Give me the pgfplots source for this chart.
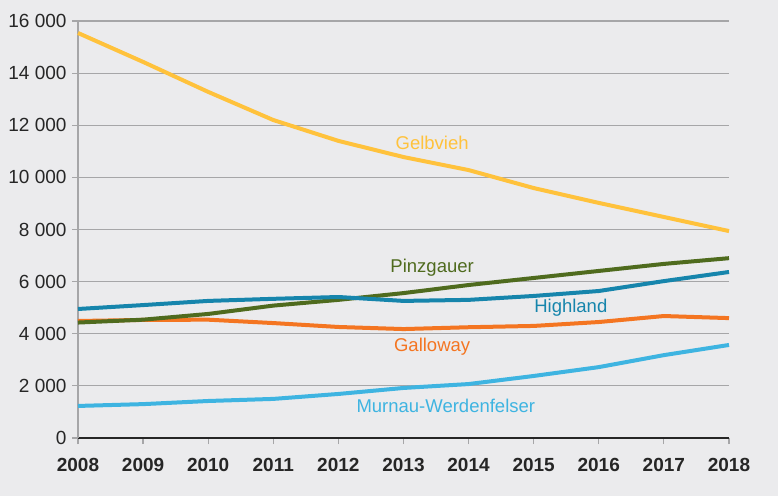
\documentclass[border=0pt]{standalone}
\usepackage{pgfplots}
\pgfplotsset{compat=1.18}
\usepackage{fontspec}
\setmainfont{Liberation Sans}
\definecolor{bg}{HTML}{EBEBED}
\definecolor{gridc}{HTML}{A6A6A8}
\definecolor{gelb}{HTML}{FFC23C}
\definecolor{pinz}{HTML}{4F6B1E}
\definecolor{high}{HTML}{1685AC}
\definecolor{gall}{HTML}{F47521}
\definecolor{murn}{HTML}{3EB4E1}
\begin{document}
\begin{tikzpicture}[x=1pt,y=1pt]
\fill[bg] (-78,-58) rectangle (700,438);
\begin{axis}[
  at={(0,0)}, anchor=south west,
  scale only axis, width=651pt, height=417pt,
  xmin=2008, xmax=2018, ymin=0, ymax=16000,
  scaled y ticks=false, scaled x ticks=false,
  axis x line=bottom, axis y line=left,
  axis line style={-},
  x axis line style={draw=black!85, line width=1.5pt},
  y axis line style={draw=gridc, line width=1.5pt},
  xtick={2008,...,2018},
  xticklabels={\textbf{2008},\textbf{2009},\textbf{2010},\textbf{2011},\textbf{2012},\textbf{2013},\textbf{2014},\textbf{2015},\textbf{2016},\textbf{2017},\textbf{2018}},
  ytick={0,2000,...,16000},
  yticklabels={0,2 000,4 000,6 000,8 000,10 000,12 000,14 000,16 000},
  tick style={draw=gridc, line width=1.2pt},
  major tick length=6pt,
  tick align=outside,
  ymajorgrids,
  major grid style={draw=gridc, line width=1.2pt},
  tick label style={font=\fontsize{19}{21}\selectfont, text=black!85},
  yticklabel style={xshift=-2pt},
  xticklabel style={yshift=-11pt},
  every axis plot/.append style={line width=4pt, line join=round},
  clip=false,
]
\addplot[murn] coordinates {(2008,1230)(2009,1300)(2010,1420)(2011,1500)(2012,1690)(2013,1920)(2014,2070)(2015,2380)(2016,2720)(2017,3180)(2018,3570)};
\addplot[gall] coordinates {(2008,4490)(2009,4530)(2010,4540)(2011,4410)(2012,4260)(2013,4180)(2014,4250)(2015,4300)(2016,4450)(2017,4680)(2018,4600)};
\addplot[pinz] coordinates {(2008,4430)(2009,4540)(2010,4760)(2011,5080)(2012,5300)(2013,5560)(2014,5870)(2015,6140)(2016,6410)(2017,6680)(2018,6900)};
\addplot[high] coordinates {(2008,4950)(2009,5100)(2010,5260)(2011,5340)(2012,5410)(2013,5260)(2014,5300)(2015,5450)(2016,5640)(2017,6020)(2018,6370)};
\addplot[gelb] coordinates {(2008,15540)(2009,14430)(2010,13280)(2011,12200)(2012,11400)(2013,10780)(2014,10280)(2015,9590)(2016,9020)(2017,8480)(2018,7940)};
\node[text=gelb, font=\fontsize{18.5}{20}\selectfont] at (axis cs:2013.44,11320) {Gelbvieh};
\node[text=pinz, font=\fontsize{18.5}{20}\selectfont] at (axis cs:2013.44,6520) {Pinzgauer};
\node[text=high, font=\fontsize{18.5}{20}\selectfont] at (axis cs:2015.57,4980) {Highland};
\node[text=gall, font=\fontsize{18.5}{20}\selectfont] at (axis cs:2013.44,3520) {Galloway};
\node[text=murn, font=\fontsize{18.5}{20}\selectfont] at (axis cs:2013.65,1230) {Murnau-Werdenfelser};
\end{axis}
\end{tikzpicture}
\end{document}
